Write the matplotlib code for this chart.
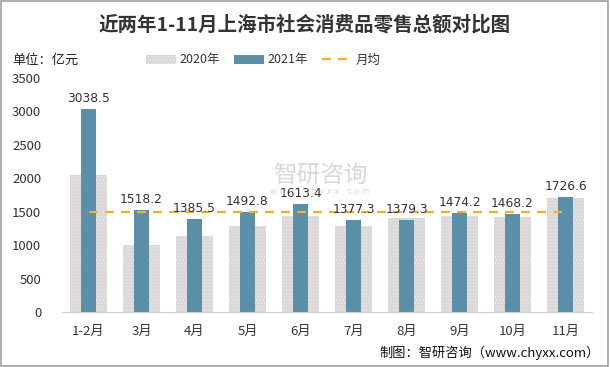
import matplotlib
matplotlib.use("Agg")
import matplotlib.pyplot as plt
from matplotlib.patches import Rectangle
import numpy as np

plt.rcParams['font.family'] = ['Noto Sans CJK SC', 'DejaVu Sans']

categories = ['1-2月', '3月', '4月', '5月', '6月', '7月', '8月', '9月', '10月', '11月']
values_2020 = [2050, 1003, 1138, 1287, 1437, 1292, 1407, 1442, 1422, 1706]
values_2021 = [3038.5, 1518.2, 1385.5, 1492.8, 1613.4, 1377.3, 1379.3, 1474.2, 1468.2, 1726.6]
monthly_avg = [1497.6] * len(categories)
yticks = [0, 500, 1000, 1500, 2000, 2500, 3000, 3500]

fig = plt.figure(figsize=(6.10, 3.67), dpi=100)
ax = fig.add_axes([62/610, 1 - 312/367, 530/610, 234/367])

x = np.arange(len(categories))
plt.rcParams['hatch.linewidth'] = 0.6
b20 = ax.bar(x, values_2020, width=0.68, color='#dcd7d7', edgecolor='#ebe8e8',
             hatch='.....', linewidth=0, label='2020年', zorder=1)
b21 = ax.bar(x, values_2021, width=0.27, color='#5b8fa8', linewidth=0, label='2021年', zorder=2)
ax.plot(x, monthly_avg, color='#f0b323', linestyle=(0, (4, 3.2)), linewidth=1.6, label='月均', zorder=3)

for xi, v in zip(x, values_2021):
    ax.text(xi, v + 60, f'{v:.1f}', ha='center', va='bottom', fontsize=8.8,
            color='#333333', family=['DejaVu Sans'], zorder=4)

ax.set_xlim(-0.5, len(categories) - 0.5)
ax.set_ylim(0, 3500)
ax.set_yticks(yticks)
ax.set_yticklabels([str(t) for t in yticks], fontsize=9.5, color='#333333')
ax.set_xticks(x)
ax.set_xticklabels(categories, fontsize=9.5, color='#333333')
ax.tick_params(axis='both', length=0)
ax.tick_params(axis='x', pad=9)
ax.tick_params(axis='y', pad=15)
for s in ['top', 'right', 'left']:
    ax.spines[s].set_visible(False)
ax.spines['bottom'].set_color('#d0d0d0')

# watermark
fig.text(320/610, 1 - 176/367, '智研咨询', fontsize=17, color='#c8c8c8', alpha=0.7, ha='center', va='center')
fig.text(320/610, 1 - 191/367, 'w w w . c h y x x . c o m', fontsize=6, color='#c8c8c8', alpha=0.7,
         ha='center', va='center', family=['DejaVu Sans'])

fig.text(0.5, 1 - 25/367, '近两年1-11月上海市社会消费品零售总额对比图', fontsize=14, fontweight='bold',
         ha='center', va='center', color='#333333')
fig.text(12/610, 1 - 60/367, '单位：亿元', fontsize=9.5, ha='left', va='center', color='#222222')

leg = fig.legend(handles=[b20, b21, ax.lines[0]], labels=['2020年', '2021年', '月均'],
                 loc='center', bbox_to_anchor=(263/610, 1 - 60/367), ncol=3, frameon=False,
                 fontsize=9, handlelength=2.4, handleheight=0.7, columnspacing=1.1, handletextpad=0.3)
for t in leg.get_texts():
    t.set_color('#333333')

fig.text(600/610, 1 - 353/367, '制图：智研咨询（www.chyxx.com）', fontsize=9.5, ha='right', va='center',
         color='#111111')

fig.patches.append(Rectangle((0.002, 0.003), 0.995, 0.994, transform=fig.transFigure,
                             fill=False, edgecolor='#a0a0a0', linewidth=1.2))

fig.savefig('out.png', dpi=100)
